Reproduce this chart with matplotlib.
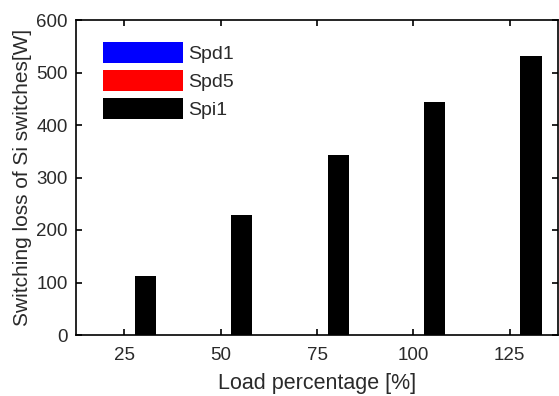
import numpy as np
import matplotlib
matplotlib.use('Agg')
from matplotlib import pyplot as plt

plt.rcParams['font.family'] = ['Liberation Sans', 'DejaVu Sans']

loads = ['25', '50', '75', '100', '125']
spd1 = [0, 0, 0, 0, 0]
spd5 = [0, 0, 0, 0, 0]
spi1 = [112, 228, 342, 444, 531]

x = np.arange(1, len(loads) + 1)
w = 0.22
txt = '#2a2a2a'

fig = plt.figure(figsize=(5.59, 3.96), dpi=100)
ax = fig.add_axes([76 / 559, 61 / 396, 482 / 559, 315 / 396])

ax.bar(x - w, spd1, w, color='#0000ff', label='Spd1')
ax.bar(x, spd5, w, color='#ff0000', label='Spd5')
ax.bar(x + w, spi1, w, color='black', label='Spi1')

ax.set_xlim(0.5, 5.5)
ax.set_ylim(0, 600)
ax.set_xticks(x)
ax.set_xticklabels(loads)
ax.set_yticks(range(0, 601, 100))
ax.tick_params(direction='in', top=True, right=True, labelsize=13.5,
               labelcolor=txt, length=4, width=1.2, pad=6)
ax.tick_params(axis='x', pad=9)
for s in ax.spines.values():
    s.set_linewidth(1.2)

ax.set_xlabel('Load percentage [%]', fontsize=15.5, color=txt, labelpad=6)
ax.set_ylabel('Switching loss of Si switches[W]', fontsize=15, color=txt, labelpad=3)

leg = ax.legend(loc='upper left', frameon=False, fontsize=14, handlelength=4.1,
                handleheight=1.3, labelspacing=0.35, handletextpad=0.3,
                bbox_to_anchor=(0.04, 0.955), borderaxespad=0)
for t in leg.get_texts():
    t.set_color(txt)

fig.savefig('out.png', dpi=100)
